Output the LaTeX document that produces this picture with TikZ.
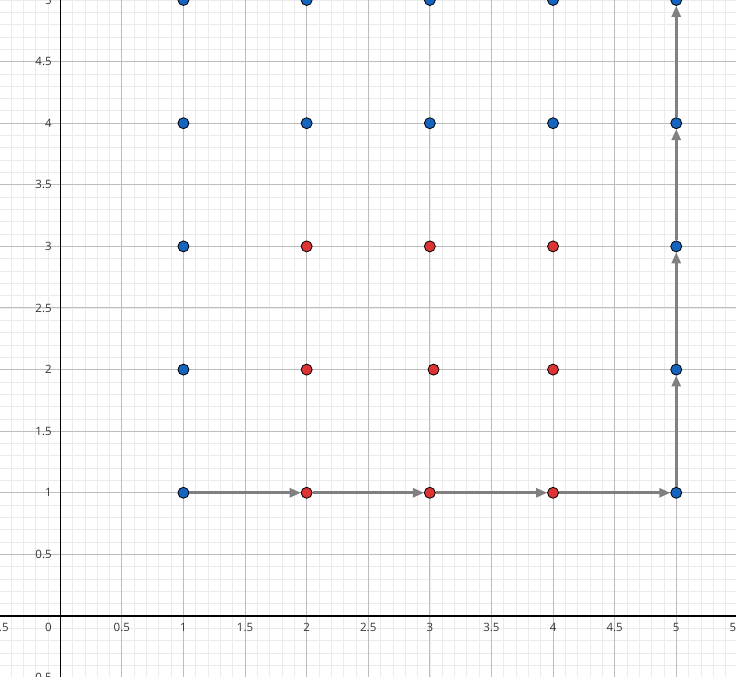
\documentclass[tikz,border=0pt]{standalone}
\usepackage{fontspec}
\setmainfont{Open Sans}
\usepackage{xcolor}
\usetikzlibrary{arrows.meta}

\definecolor{dotblue}{HTML}{1565C0}
\definecolor{dotred}{HTML}{DD3333}
\definecolor{minorgrid}{HTML}{EBEBEB}
\definecolor{majorgrid}{HTML}{BDBDBD}
\definecolor{ticklabel}{HTML}{333333}

\begin{document}
\begin{tikzpicture}[x=123.2pt, y=123.2pt,
      bluedot/.style={circle, draw=black, line width=0.8pt, fill=dotblue, inner sep=0pt, minimum size=11pt},
      reddot/.style={circle, draw=black, line width=0.8pt, fill=dotred, inner sep=0pt, minimum size=11pt},
      pathline/.style={draw=gray, line width=2.6pt, -{Triangle[length=11pt, width=9pt]}},
      tick/.style={font=\fontsize{11.5}{13}\selectfont, text=ticklabel, inner sep=1pt}]

      \useasboundingbox (-0.489,-0.495) rectangle (5.485,5.0);

      % Grid
      \draw [minorgrid, line width=0.7pt] (-0.5,-0.6) grid[step=0.1] (5.6,5.1);
      \draw [majorgrid, line width=1pt] (-0.5,-0.6) grid[step=0.5] (5.6,5.1);

      % Axes
      \draw [black, line width=1.4pt] (-0.6,0) -- (5.6,0);
      \draw [black, line width=1.4pt] (0,-0.6) -- (0,5.1);

      % Tick labels
      \foreach \x in {-0.5,0.5,1,1.5,2,2.5,3,3.5,4,4.5,5,5.5}
        \node [tick] at (\x,-0.093) {\x};
      \node [tick, anchor=east] at (-0.06,-0.093) {0};
      \foreach \y in {-0.5,0.5,1,1.5,2,2.5,3,3.5,4,4.5,5}
        \node [tick, anchor=east] at (-0.06,\y) {\y};

      % Nodes
      \foreach \x/\y in {1/1,1/2,1/3,1/4,1/5,2/4,2/5,3/4,3/5,4/4,4/5,5/1,5/2,5/3,5/4,5/5}
        \node [bluedot] (p\x\y) at (\x,\y) {};
      \foreach \x/\y in {2/1,3/1,4/1,2/2,4/2,2/3,3/3,4/3}
        \node [reddot] (p\x\y) at (\x,\y) {};
      \node [reddot] (p32) at (3.03,2) {};

      % Edges
      \path [pathline] (p11) -- (p21);
      \path [pathline] (p21) -- (p31);
      \path [pathline] (p31) -- (p41);
      \path [pathline] (p41) -- (p51);
      \path [pathline] (p51) -- (p52);
      \path [pathline] (p52) -- (p53);
      \path [pathline] (p53) -- (p54);
      \path [pathline] (p54) -- (p55);

    \end{tikzpicture}
\end{document}
